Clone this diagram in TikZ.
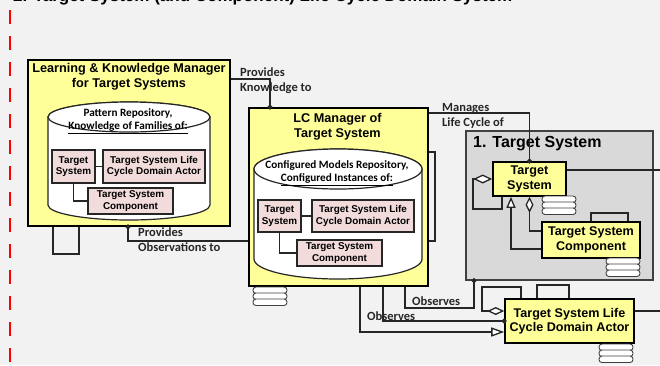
\documentclass[tikz,border=0pt]{standalone}
\usepackage{fontspec}
\setmainfont{Liberation Sans}
\newfontfamily\lblfont{Carlito}
\usetikzlibrary{arrows.meta}
\definecolor{bgc}{HTML}{F2F2F2}
\definecolor{yellowc}{HTML}{FFFF99}
\definecolor{pinkc}{HTML}{F2DCDB}
\definecolor{grayc}{HTML}{D9D9D9}
\definecolor{graybd}{HTML}{404040}
\definecolor{linec}{HTML}{262626}
\definecolor{lblc}{HTML}{262626}
\tikzset{
  ybox/.style={draw=black, line width=1.6pt, fill=yellowc, inner sep=0pt, align=center,
    font=\fontsize{12.6}{14.5}\selectfont\bfseries},
  pbox/.style={draw=black!85, line width=1.3pt, fill=pinkc, inner sep=0pt, align=center,
    font=\fontsize{9.9}{11.5}\selectfont\bfseries},
  conn/.style={draw=linec, line width=1.3pt},
  cyl/.style={draw=black!85, fill=white, line width=1.2pt},
  lbl/.style={font=\lblfont\bfseries\fontsize{12.5}{15}\selectfont, text=lblc, align=left, inner sep=0pt},
  cyltext/.style={font=\lblfont\fontsize{11.2}{13}\selectfont\bfseries, align=center, inner sep=0pt},
  boxtitle/.style={font=\fontsize{12.7}{14.8}\selectfont\bfseries, align=center, inner sep=0pt},
  dotend/.style={-{Circle[length=5pt]}, shorten >=-2.5pt},
  dotstart/.style={{Circle[length=5pt]}-, shorten <=-2.5pt},
  pillstack/.pic={
    \foreach \k in {0,1,2}
      \draw[draw=graybd, fill=white, line width=0.9pt, rounded corners=3pt]
        (0,6*\k) rectangle (34,6*\k+6.5);
  }
}
\begin{document}
\begin{tikzpicture}[x=1pt,y=-1pt]
\useasboundingbox (0,0) rectangle (660,365);
\clip (0,0) rectangle (660,365);
\fill[bgc] (0,0) rectangle (660,365);

% title (cut off at the top)
\node[font=\fontsize{17}{20}\selectfont\bfseries, anchor=base west, inner sep=0pt] (title)
  at (13,1.5) {2. Target System (and Component) Life Cycle Domain System};

% red dashed boundary
\draw[red, line width=2pt, dash pattern=on 14pt off 12pt] (10,10) -- (10,368);

% ---------- Learning & Knowledge Manager ----------
\node[ybox, minimum width=202pt, minimum height=166pt] (lkm) at (129,143) {};
\node[boxtitle] (lkmt) at (129,77) {Learning \& Knowledge Manager\\for Target Systems};
\filldraw[cyl] (48,117) -- (48,205) arc[start angle=180,end angle=360,x radius=81pt,y radius=15pt]
  -- (210,117) arc[start angle=0,end angle=180,x radius=81pt,y radius=15pt] -- cycle;
\draw[cyl] (129,117) ellipse [x radius=81pt, y radius=15pt];
\node[cyltext] (lkmc) at (128,121) {Pattern Repository,\\\underline{Knowledge of Families of:}};
\node[pbox, minimum width=43pt, minimum height=33pt] (lts) at (73.5,166.5) {Target\\System};
\node[pbox, minimum width=102pt, minimum height=33pt] (lact) at (154,166.5) {Target System Life\\Cycle Domain Actor};
\node[pbox, minimum width=85pt, minimum height=26pt] (lcomp) at (130.5,201) {Target System\\Component};
\draw[conn, line width=1.1pt] (lts) -- (lact);
\draw[conn, line width=1.1pt] (lts.south) |- (lcomp.west);
\draw[conn] (lkm.south -| 53,0) -- (53,254) -- (79,254) -- (lkm.south -| 79,0);

% ---------- LC Manager ----------
\node[ybox, minimum width=179pt, minimum height=178pt] (lcm) at (338.5,197) {};
\node[boxtitle] (lcmt) at (337.5,126.5) {LC Manager of\\Target System};
\filldraw[cyl] (254,169) -- (254,259) arc[start angle=180,end angle=360,x radius=84pt,y radius=20pt]
  -- (422,169) arc[start angle=0,end angle=180,x radius=84pt,y radius=20pt] -- cycle;
\draw[cyl] (338,169) ellipse [x radius=84pt, y radius=20pt];
\node[cyltext] (lcmc) at (337,173) {Configured Models Repository,\\\underline{Configured Instances of:}};
\node[pbox, minimum width=43pt, minimum height=32pt] (cts) at (279.5,216) {Target\\System};
\node[pbox, minimum width=102pt, minimum height=32pt] (cact) at (363,216) {Target System Life\\Cycle Domain Actor};
\node[pbox, minimum width=85pt, minimum height=26pt] (ccomp) at (339.5,253) {Target System\\Component};
\draw[conn, line width=1.1pt] (cts) -- (cact);
\draw[conn, line width=1.1pt] (cts.south) |- (ccomp.west);
\draw[conn] (lcm.east |- 0,152) -| (435,241) -- (lcm.east |- 0,241);
\pic at (253,287) {pillstack};

% ---------- 1. Target System ----------
\node[draw=graybd, fill=grayc, line width=1.2pt, minimum width=187pt, minimum height=149pt, inner sep=0pt] (tsys) at (559.5,205.5) {};
\node[font=\fontsize{16}{19}\selectfont\bfseries, anchor=base west, inner sep=0pt] (tsyst) at (473,147.3) {1. Target System};
\node[ybox, minimum width=73pt, minimum height=34pt] (ts) at (529.5,179) {Target\\System};
\node[ybox, minimum width=98pt, minimum height=36pt] (comp) at (591,240) {Target System\\Component};
\draw[conn, {Diamond[fill=white,length=19pt,width=9pt]}-] (ts.west |- 0,179) -- (473,179) -- (473,209) -- (502,209) -- (ts.south -| 502,0);
\draw[conn, {Diamond[fill=white,length=16pt,width=8pt]}-] (ts.south) |- (comp.west |- 0,231);
\draw[conn, {Triangle[fill=white,length=11pt,width=9pt]}-] (ts.south -| 511,0) |- (comp.west |- 0,249);
\draw[conn] (comp.north -| 591,0) -- (591,213) -- (628,213) -- (comp.north -| 628,0);
\pic at (542,196) {pillstack};
\pic at (606,258) {pillstack};

% ---------- Actor ----------
\node[ybox, minimum width=129pt, minimum height=44pt] (actor) at (569.5,321) {Target System Life\\Cycle Domain Actor};
\draw[conn, {Diamond[fill=white,length=17pt,width=8pt]}-] (actor.west |- 0,311) -- (482,311) -- (482,287) -- (521,287) -- (actor.north -| 521,0);
\draw[conn] (actor.north -| 537,0) -- (537,285) -- (569,285) -- (actor.north -| 569,0);
\pic at (599,344) {pillstack};

% ---------- connectors ----------
\coordinate (edge1) at (662,170);
\coordinate (edge2) at (662,311);
\draw[conn] (ts.east |- 0,170) -- (edge1);
\draw[conn] (actor.east |- 0,311) -- (edge2);
\draw[conn, dotend] (lkm.east |- 0,79) -| (lcm.north -| 270,0);
\draw[conn, dotstart] (lkm.south -| 128,0) |- (lcm.west |- 0,241);
\draw[conn, dotend] (lcm.east |- 0,113) -| (ts.north);
\draw[conn, -{Triangle[fill=white,length=13pt,width=9pt]}] (lcm.south -| 360,0) |- (actor.west |- 0,332);
\draw[conn, dotend] (lcm.south -| 383,0) |- (actor.west |- 0,321);
\draw[conn, dotend] (lcm.south -| 405,0) |- (474,308) -- (tsys.south -| 474,0);

% ---------- labels ----------
\node[lbl, anchor=west] (l1) at (240,80.7) {Provides\\Knowledge to};
\node[lbl, anchor=west] (l2) at (138,240) {Provides\\Observations to};
\node[lbl, anchor=west] (l3) at (442,116) {Manages\\Life Cycle of};
\node[lbl, anchor=base west] (l4) at (412,305) {Observes};
\node[lbl, anchor=base west] (l5) at (367,320) {Observes};
\end{tikzpicture}
\end{document}
